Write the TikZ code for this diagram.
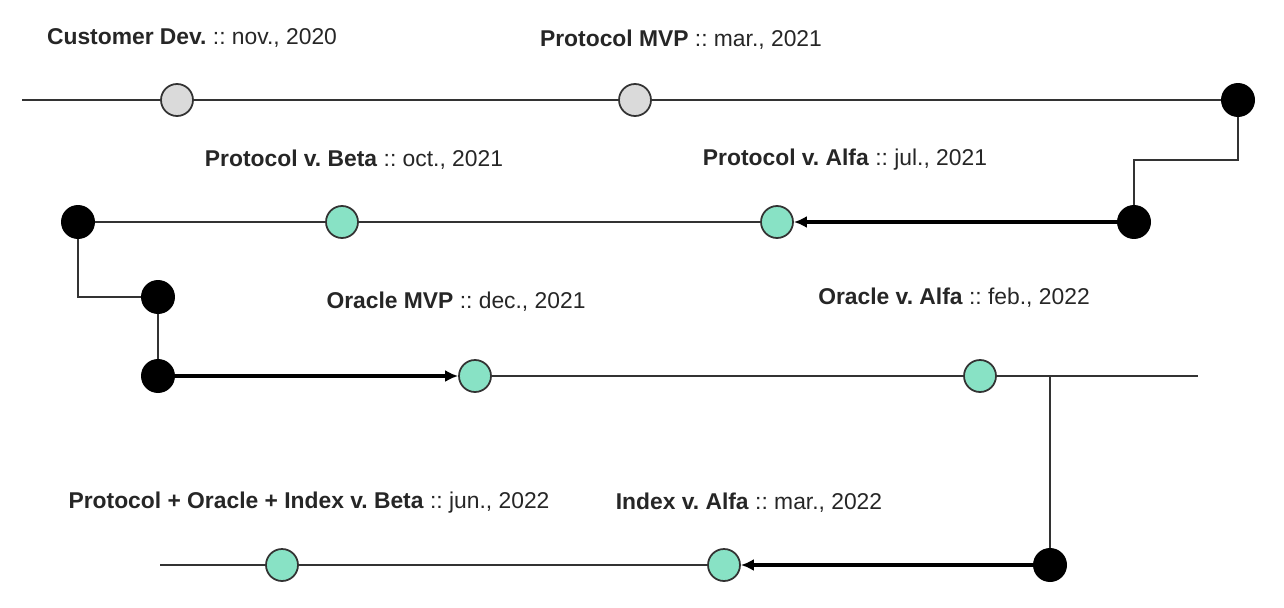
\documentclass[tikz,border=0pt]{standalone}
\usepackage{fontspec}
\setmainfont{Liberation Sans}
\usetikzlibrary{arrows.meta,positioning}
\definecolor{mint}{HTML}{88E2C5}
\definecolor{pastgray}{HTML}{DADADA}
\definecolor{linegray}{HTML}{333333}
\frenchspacing

\begin{document}
\begin{tikzpicture}[x=0.02cm, y=-0.02cm,
  past/.style={circle, draw=linegray, fill=pastgray, line width=1pt, minimum size=0.64cm, inner sep=0pt},
  next/.style={circle, draw=linegray, fill=mint, line width=1pt, minimum size=0.64cm, inner sep=0pt},
  turn/.style={circle, fill=black, minimum size=0.68cm, inner sep=0pt},
  lbl/.style={font=\fontsize{13}{15}\selectfont, text=black!85},
  track/.style={draw=linegray, line width=1.1pt},
  arrow/.style={-{Latex[length=2.6mm,width=2.4mm]}, line width=1.8pt, black}
]
\useasboundingbox (0,0) rectangle (1284,608);

% milestones
\node[past] (cust) at (177,100) {};
\node[past] (pmvp) at (635,100) {};
\node[turn] (t1) at (1238,100) {};
\node[turn] (t2) at (1134,222) {};
\node[next] (palfa) at (777,222) {};
\node[next] (pbeta) at (342,222) {};
\node[turn] (t3) at (78,222) {};
\node[turn] (t4) at (158,297) {};
\node[turn] (t5) at (158,376) {};
\node[next] (omvp) at (475,376) {};
\node[next] (oalfa) at (980,376) {};
\node[turn] (t6) at (1050,565) {};
\node[next] (ialfa) at (724,565) {};
\node[next] (all) at (282,565) {};
\coordinate (start) at (22,100);
\coordinate (fork) at (1050,376);
\coordinate (end3) at (1198,376);
\coordinate (end4) at (160,565);

% labels
\node[lbl] (cust-l) at (192,38) {\textbf{Customer Dev.} :: nov., 2020};
\node[lbl] (pmvp-l) at (681,40) {\textbf{Protocol MVP} :: mar., 2021};
\node[lbl] (pbeta-l) at (354,160) {\textbf{Protocol v. Beta} :: oct., 2021};
\node[lbl] (palfa-l) at (845,160) {\textbf{Protocol v. Alfa} :: jul., 2021};
\node[lbl] (omvp-l) at (456,302) {\textbf{Oracle MVP} :: dec., 2021};
\node[lbl] (oalfa-l) at (954,298) {\textbf{Oracle v. Alfa} :: feb., 2022};
\node[lbl] (all-l) at (309,503) {\textbf{Protocol + Oracle + Index v. Beta} :: jun., 2022};
\node[lbl] (ialfa-l) at (749,503) {\textbf{Index v. Alfa} :: mar., 2022};

% tracks
\draw[track] (start) -- (cust) -- (pmvp) -- (t1);
\draw[track] (t1) -- ++(0,60) -| (t2);
\draw[arrow] (t2) -- (palfa);
\draw[track] (palfa) -- (pbeta) -- (t3);
\draw[track] (t3) |- (t4);
\draw[track] (t4) -- (t5);
\draw[arrow] (t5) -- (omvp);
\draw[track] (omvp) -- (oalfa) -- (end3);
\draw[track] (fork) -- (t6);
\draw[arrow] (t6) -- (ialfa);
\draw[track] (ialfa) -- (all) -- (end4);
\end{tikzpicture}
\end{document}
